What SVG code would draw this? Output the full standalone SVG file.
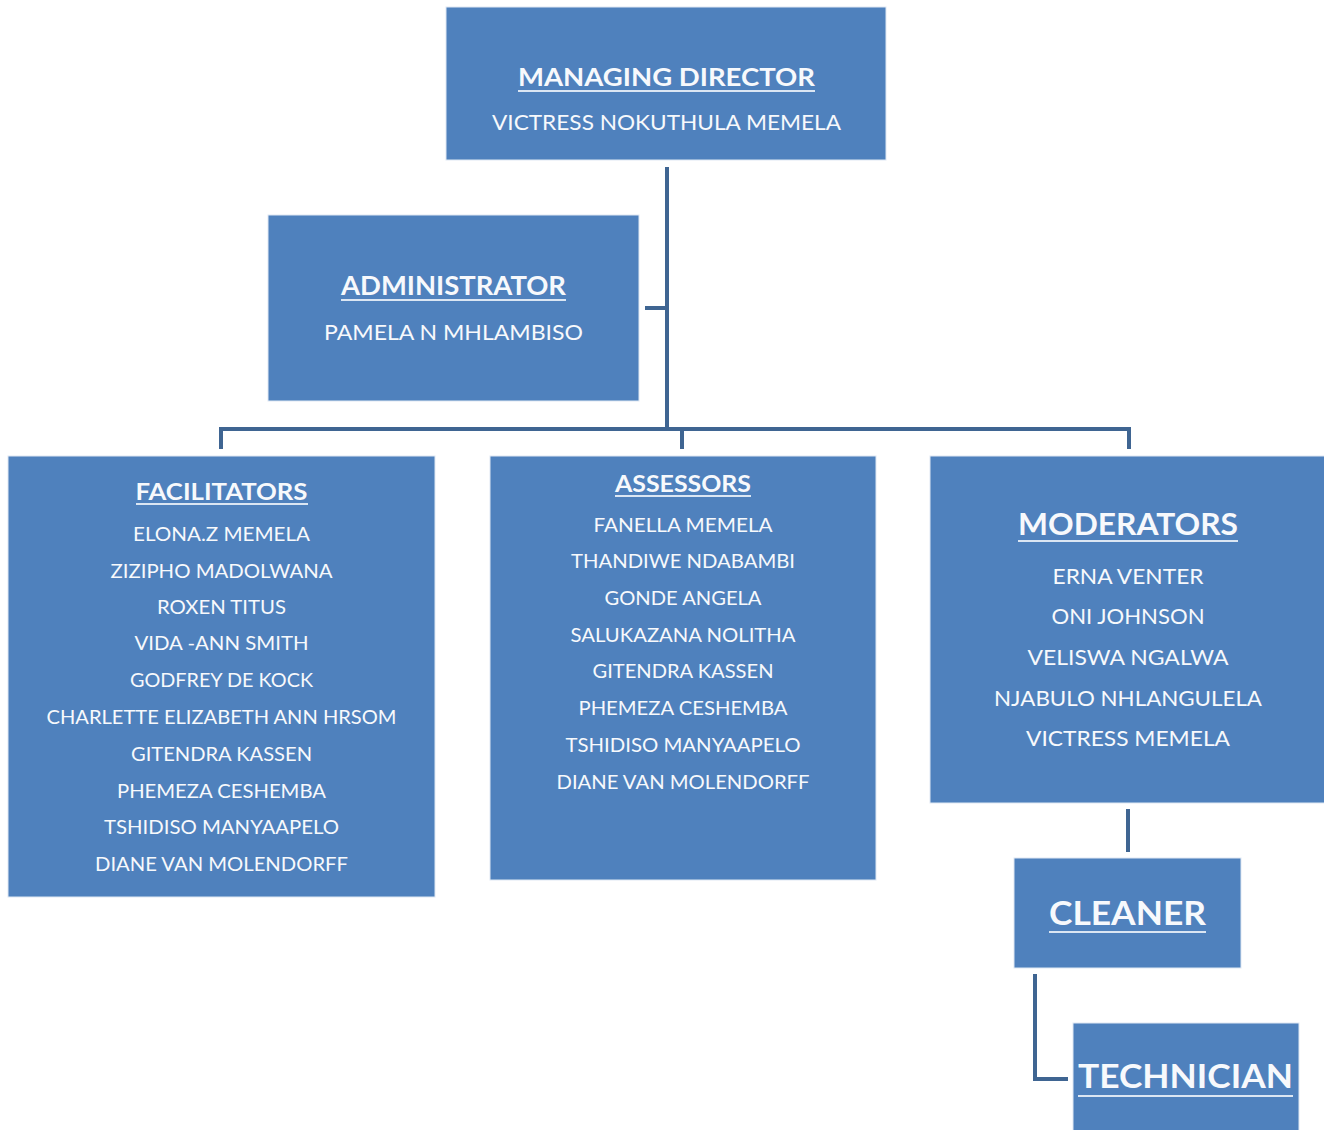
<svg xmlns="http://www.w3.org/2000/svg" width="1324" height="1130" viewBox="0 0 1324 1130">
<style>
.box{fill:#4f81bd;stroke:#dfe8f3;stroke-width:1}
.t{font-family:Lato,"Open Sans","Liberation Sans",sans-serif;fill:#f7f9fc;text-anchor:middle}
.h{font-weight:bold}
.u{stroke:#dbe6f3;stroke-width:2}
.c{fill:none;stroke:#3f6592;stroke-width:4}
</style>
<rect width="1324" height="1130" fill="#ffffff"/>
<g id="connectors">
<path class="c" d="M667 167V429M645 308H667M221 449V429H1129V449M682 429V449M1128 809V852M1035 974V1079H1068"/>
</g>
<g id="md">
<rect class="box" x="446" y="7" width="440" height="153"/>
<text class="t h" x="666.5" y="86" font-size="25" textLength="297" lengthAdjust="spacingAndGlyphs">MANAGING DIRECTOR</text>
<line class="u" x1="518" y1="91" x2="815" y2="91"/>
<text class="t" x="666.5" y="130" font-size="21" textLength="349" lengthAdjust="spacingAndGlyphs">VICTRESS NOKUTHULA MEMELA</text>
</g>
<g id="admin">
<rect class="box" x="268" y="215" width="371" height="186"/>
<text class="t h" x="453.5" y="295" font-size="26" textLength="225" lengthAdjust="spacingAndGlyphs">ADMINISTRATOR</text>
<line class="u" x1="341" y1="300" x2="566" y2="300"/>
<text class="t" x="453.5" y="340" font-size="21" textLength="259" lengthAdjust="spacingAndGlyphs">PAMELA N MHLAMBISO</text>
</g>
<g id="facilitators">
<rect class="box" x="8" y="456" width="427" height="441"/>
<text class="t h" x="221.5" y="500" font-size="23" textLength="172" lengthAdjust="spacingAndGlyphs">FACILITATORS</text>
<line class="u" x1="136" y1="504" x2="308" y2="504"/>
<g class="t" font-size="19">
<text x="221.5" y="541" textLength="177" lengthAdjust="spacingAndGlyphs">ELONA.Z MEMELA</text>
<text x="221.5" y="578" textLength="222" lengthAdjust="spacingAndGlyphs">ZIZIPHO MADOLWANA</text>
<text x="221.5" y="614" textLength="129" lengthAdjust="spacingAndGlyphs">ROXEN TITUS</text>
<text x="221.5" y="650" textLength="174" lengthAdjust="spacingAndGlyphs">VIDA -ANN SMITH</text>
<text x="221.5" y="687" textLength="183" lengthAdjust="spacingAndGlyphs">GODFREY DE KOCK</text>
<text x="221.5" y="724" textLength="350" lengthAdjust="spacingAndGlyphs">CHARLETTE ELIZABETH ANN HRSOM</text>
<text x="221.5" y="761" textLength="181" lengthAdjust="spacingAndGlyphs">GITENDRA KASSEN</text>
<text x="221.5" y="798" textLength="209" lengthAdjust="spacingAndGlyphs">PHEMEZA CESHEMBA</text>
<text x="221.5" y="834" textLength="235" lengthAdjust="spacingAndGlyphs">TSHIDISO MANYAAPELO</text>
<text x="221.5" y="871" textLength="253" lengthAdjust="spacingAndGlyphs">DIANE VAN MOLENDORFF</text>
</g>
</g>
<g id="assessors">
<rect class="box" x="490" y="456" width="386" height="424"/>
<text class="t h" x="683" y="492" font-size="22" textLength="136" lengthAdjust="spacingAndGlyphs">ASSESSORS</text>
<line class="u" x1="615" y1="496" x2="751" y2="496"/>
<g class="t" font-size="19">
<text x="683" y="532" textLength="179" lengthAdjust="spacingAndGlyphs">FANELLA MEMELA</text>
<text x="683" y="568" textLength="224" lengthAdjust="spacingAndGlyphs">THANDIWE NDABAMBI</text>
<text x="683" y="605" textLength="157" lengthAdjust="spacingAndGlyphs">GONDE ANGELA</text>
<text x="683" y="642" textLength="225" lengthAdjust="spacingAndGlyphs">SALUKAZANA NOLITHA</text>
<text x="683" y="678" textLength="181" lengthAdjust="spacingAndGlyphs">GITENDRA KASSEN</text>
<text x="683" y="715" textLength="209" lengthAdjust="spacingAndGlyphs">PHEMEZA CESHEMBA</text>
<text x="683" y="752" textLength="235" lengthAdjust="spacingAndGlyphs">TSHIDISO MANYAAPELO</text>
<text x="683" y="789" textLength="253" lengthAdjust="spacingAndGlyphs">DIANE VAN MOLENDORFF</text>
</g>
</g>
<g id="moderators">
<rect class="box" x="930" y="456" width="400" height="347"/>
<text class="t h" x="1128" y="535" font-size="30" textLength="220" lengthAdjust="spacingAndGlyphs">MODERATORS</text>
<line class="u" x1="1018" y1="541" x2="1238" y2="541"/>
<g class="t" font-size="21">
<text x="1128" y="584" textLength="151" lengthAdjust="spacingAndGlyphs">ERNA VENTER</text>
<text x="1128" y="624" textLength="153" lengthAdjust="spacingAndGlyphs">ONI JOHNSON</text>
<text x="1128" y="665" textLength="201" lengthAdjust="spacingAndGlyphs">VELISWA NGALWA</text>
<text x="1128" y="706" textLength="268" lengthAdjust="spacingAndGlyphs">NJABULO NHLANGULELA</text>
<text x="1128" y="746" textLength="204" lengthAdjust="spacingAndGlyphs">VICTRESS MEMELA</text>
</g>
</g>
<g id="cleaner">
<rect class="box" x="1014" y="858" width="227" height="110"/>
<text class="t h" x="1127.5" y="925" font-size="32" textLength="157" lengthAdjust="spacingAndGlyphs">CLEANER</text>
<line class="u" x1="1049" y1="932" x2="1206" y2="932"/>
</g>
<g id="technician">
<rect class="box" x="1073" y="1023" width="226" height="120"/>
<text class="t h" x="1185.5" y="1088" font-size="33" textLength="215" lengthAdjust="spacingAndGlyphs">TECHNICIAN</text>
<line class="u" x1="1078" y1="1096" x2="1293" y2="1096"/>
</g>
</svg>
